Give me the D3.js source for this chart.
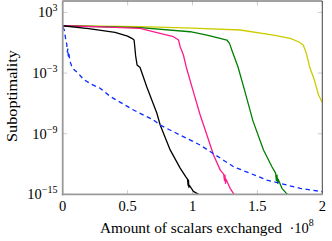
<!DOCTYPE html>
<html>
<head>
<meta charset="utf-8">
<script src="https://cdn.jsdelivr.net/npm/d3@7"></script>
<style>
  body { margin: 0; background: #fff; }
  text { font-family: "Liberation Serif", "DejaVu Serif", serif; fill: #000; }
</style>
</head>
<body>
<div id="chart"></div>
<script>
// x in units of 1e8 scalars, y given as log10(suboptimality)
const blackX = [0, 0.2, 0.403, 0.5, 0.532, 0.55, 0.556, 0.562, 0.573, 0.596, 0.648, 0.725, 0.751, 0.828, 0.905, 0.95, 0.962, 0.966, 0.969, 0.972, 0.976, 1.007, 1.04, 1.08];
const blackY = [1.68, 1.4, 1.03, 0.66, 0.44, 0.27, -0.5, -1.3, -2.2, -2.45, -4.38, -6.95, -8.14, -10.6, -12.4, -13.3, -13.5, -14.1, -13.6, -14.3, -14.1, -14.7, -14.95, -15.3];

const pinkX = [0, 0.3, 0.596, 0.75, 0.853, 0.892, 0.905, 0.93, 0.951, 1.003, 1.059, 1.111, 1.162, 1.214, 1.24, 1.246, 1.25, 1.254, 1.258, 1.29, 1.31, 1.335];
const pinkY = [1.68, 1.57, 1.43, 0.93, 0.6, 0.27, -0.39, -1.21, -2.37, -4.68, -7.15, -9.13, -11.1, -12.6, -13.0, -13.6, -13.1, -13.9, -13.5, -14.4, -14.8, -15.3];

const greenX = [0, 0.596, 0.982, 1.111, 1.213, 1.265, 1.285, 1.311, 1.35, 1.401, 1.465, 1.547, 1.612, 1.64, 1.646, 1.651, 1.656, 1.66, 1.689, 1.72, 1.755];
const greenY = [1.68, 1.49, 1.09, 0.76, 0.44, 0.27, -0.06, -1.02, -2.37, -4.68, -7.7, -10.6, -12.26, -12.9, -13.6, -13.1, -13.9, -13.5, -14.4, -14.85, -15.3];

const yellowX = [0, 0.596, 1.0, 1.368, 1.624, 1.753, 1.817, 1.853, 1.877, 1.902, 1.94, 1.971, 2.0];
const yellowY = [1.68, 1.59, 1.45, 1.26, 0.76, 0.44, 0.1, -0.22, -1.05, -2.37, -3.74, -5.17, -5.91];

const blueX = [0, 0.005, 0.012, 0.025, 0.031, 0.036, 0.04, 0.043, 0.047, 0.055, 0.069, 0.09, 0.12, 0.159, 0.22, 0.288, 0.365, 0.545, 0.699, 0.75, 1.059, 1.316, 1.573, 1.83, 2.0];
const blueY = [1.55, 1.46, 1.26, 0.2, -0.13, -0.9, -0.6, -1.31, -1.0, -1.8, -2.3, -2.7, -3.02, -3.6, -4.1, -4.5, -5.3, -6.65, -7.64, -8.14, -10.12, -12.26, -13.58, -14.4, -14.73];

const xTicks = [0, 0.5, 1, 1.5, 2];
const xTickLabels = ["0", "0.5", "1", "1.5", "2"];
const yTicks = [3, -3, -9, -15];

const series = [
    {x: yellowX, y: yellowY, color: "#cccc00", dash: null},
    {x: greenX, y: greenY, color: "#007f00", dash: null},
    {x: pinkX, y: pinkY, color: "#ff1a8c", dash: null},
    {x: blackX, y: blackY, color: "#000000", dash: null},
    {x: blueX, y: blueY, color: "#0a2bff", dash: "4.5,3.5"}
];

const W = 332, H = 241;
const plotLeft = 62.7, plotRight = 322.3, plotTop = 1, plotBottom = 194.4;

const svg = d3.select("#chart").append("svg")
    .attr("width", W)
    .attr("height", H);

const xScale = d3.scaleLinear().domain([0, 2]).range([plotLeft, plotRight]);
const yScale = d3.scaleLog().domain([1e-15, Math.pow(10, 4.13)]).range([plotBottom, plotTop]);

svg.append("clipPath").attr("id", "plot-clip")
    .append("rect")
    .attr("x", plotLeft).attr("y", plotTop)
    .attr("width", plotRight - plotLeft).attr("height", plotBottom - plotTop);

// tick marks (inside, light grey)
const tickColor = "#c0c0c0";
xTicks.forEach(t => {
    const x = xScale(t);
    svg.append("line").attr("x1", x).attr("x2", x).attr("y1", plotBottom).attr("y2", plotBottom - 4.5)
        .attr("stroke", tickColor).attr("stroke-width", 0.8);
    svg.append("line").attr("x1", x).attr("x2", x).attr("y1", plotTop).attr("y2", plotTop + 4.5)
        .attr("stroke", tickColor).attr("stroke-width", 0.8);
});
yTicks.forEach(t => {
    const y = yScale(Math.pow(10, t));
    svg.append("line").attr("x1", plotLeft).attr("x2", plotLeft + 4.5).attr("y1", y).attr("y2", y)
        .attr("stroke", tickColor).attr("stroke-width", 0.8);
    svg.append("line").attr("x1", plotRight).attr("x2", plotRight - 4.5).attr("y1", y).attr("y2", y)
        .attr("stroke", tickColor).attr("stroke-width", 0.8);
});

// curves
const line = d3.line()
    .x(d => xScale(d[0]))
    .y(d => yScale(Math.pow(10, d[1])));

const plot = svg.append("g").attr("clip-path", "url(#plot-clip)");
series.forEach(s => {
    const pts = s.x.map((v, i) => [v, s.y[i]]);
    plot.append("path")
        .datum(pts)
        .attr("fill", "none")
        .attr("stroke", s.color)
        .attr("stroke-width", 1.3)
        .attr("stroke-linejoin", "round")
        .attr("stroke-dasharray", s.dash)
        .attr("d", line);
});

// frame
svg.append("line").attr("x1", plotLeft).attr("x2", plotRight).attr("y1", plotTop).attr("y2", plotTop)
    .attr("stroke", "#444").attr("stroke-width", 1);
svg.append("line").attr("x1", plotRight).attr("x2", plotRight).attr("y1", plotTop).attr("y2", plotBottom)
    .attr("stroke", "#444").attr("stroke-width", 1);
svg.append("line").attr("x1", plotLeft).attr("x2", plotLeft).attr("y1", plotTop - 0.5).attr("y2", plotBottom + 1)
    .attr("stroke", "#9a9a9a").attr("stroke-width", 1.8);
svg.append("line").attr("x1", plotLeft - 0.9).attr("x2", plotRight + 0.5).attr("y1", plotBottom).attr("y2", plotBottom)
    .attr("stroke", "#9a9a9a").attr("stroke-width", 1.8);

// x tick labels
xTicks.forEach((t, i) => {
    svg.append("text")
        .attr("x", xScale(t))
        .attr("y", 210.5)
        .attr("text-anchor", "middle")
        .attr("font-size", 14.5)
        .text(xTickLabels[i]);
});

// y tick labels 10^k
yTicks.forEach(t => {
    const y = yScale(Math.pow(10, t));
    const txt = svg.append("text")
        .attr("x", 57.5)
        .attr("y", y + 5)
        .attr("text-anchor", "end")
        .attr("font-size", 14.5);
    txt.append("tspan").text("10");
    txt.append("tspan")
        .attr("font-size", 10)
        .attr("dy", -6)
        .text(t < 0 ? "\u2212" + (-t) : String(t));
});

// axis labels
svg.append("text")
    .attr("x", 100)
    .attr("y", 232.7)
    .attr("font-size", 15)
    .attr("textLength", 182)
    .attr("lengthAdjust", "spacingAndGlyphs")
    .text("Amount of scalars exchanged");

const mult = svg.append("text")
    .attr("x", 289.5)
    .attr("y", 232.7)
    .attr("font-size", 14.5);
mult.append("tspan").text("\u00b710");
mult.append("tspan").attr("font-size", 10).attr("dy", -6.5).text("8");

svg.append("text")
    .attr("transform", `translate(16.5, 96) rotate(-90)`)
    .attr("text-anchor", "middle")
    .attr("font-size", 15)
    .attr("textLength", 92)
    .attr("lengthAdjust", "spacingAndGlyphs")
    .text("Suboptimality");
</script>
</body>
</html>
